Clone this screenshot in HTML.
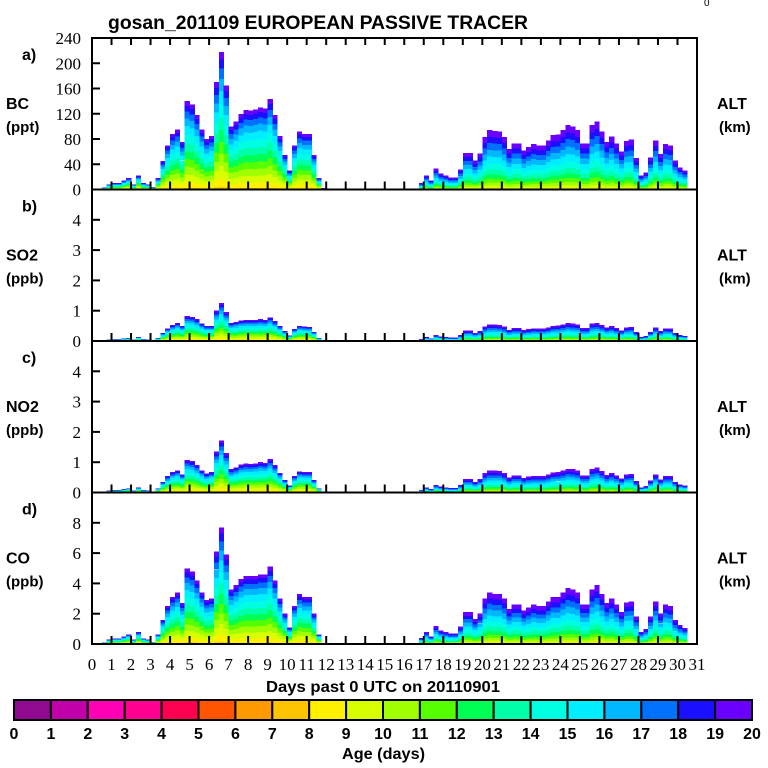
<!DOCTYPE html>
<html><head><meta charset="utf-8">
<style>
html,body{margin:0;padding:0;background:#fff;}
svg{display:block;font-family:"Liberation Sans",sans-serif;}
.lab{font-family:"Liberation Sans",sans-serif;font-weight:bold;font-size:15px;}
.tk{font-family:"Liberation Serif",serif;font-size:17px;}
</style></head>
<body>
<svg id="chart" width="768" height="768" viewBox="0 0 768 768" xmlns="http://www.w3.org/2000/svg">
<text x="108" y="29" font-size="19" font-weight="bold" textLength="420" lengthAdjust="spacingAndGlyphs" font-family="Liberation Sans">gosan_201109 EUROPEAN PASSIVE TRACER</text>
<text x="704" y="6" font-size="10">0</text>
<g id="panels"></g>
<g id="xticks"></g>
<text x="266" y="692" font-size="16" font-weight="bold" textLength="234" lengthAdjust="spacingAndGlyphs">Days past 0 UTC on 20110901</text>
<g id="colorbar"></g>
<text x="342" y="759" font-size="16" font-weight="bold" textLength="83" lengthAdjust="spacingAndGlyphs">Age (days)</text>
</svg>
<script>
const NS='http://www.w3.org/2000/svg';
const days=[0,1,2,3,4,5,6,7,8,9,10,11,12,13,14,15,16,17,18,19,20,21,22,23,24,25,26,27,28,29,30,31];
const ageColors=['#8f0a8f','#c000a8','#ff00b4','#ff0090','#ff0050','#ff5500','#ff9900','#ffc400','#fff000','#d8ff00','#a0ff00','#55ff00','#00ff55','#00ffa8','#00ffe0','#00eeff','#00b8ff','#0070ff','#1a10ff','#6a00ff'];
const ageLabels=['0','1','2','3','4','5','6','7','8','9','10','11','12','13','14','15','16','17','18','19','20'];
const profileEarly=[0,0,0,0,0,0.001,0.003,0.012,0.06,0.08,0.08,0.08,0.08,0.08,0.09,0.09,0.08,0.07,0.06,0.05];
const profileLate=[0,0,0,0,0,0,0.001,0.004,0.02,0.04,0.05,0.06,0.07,0.08,0.1,0.11,0.11,0.11,0.1,0.11];
const bcValues=[0,0,3,8, 10,10,14,18, 8,22,10,8, 4,18,45,70, 88,95,75,140, 135,118,95,80, 85,170,218,165, 100,108,120,126, 125,127,130,128, 143,118,85,55, 30,70,92,88, 88,55,18,2,
0,0,0,0, 0,0,0,0, 0,0,0,0, 0,0,0,0, 0,0,0,10, 22,14,33,25, 22,19,19,32, 58,58,46,57, 83,94,93,92, 83,64,73,73, 62,67,72,70, 70,78,86,87, 94,102,100,94, 73,73,102,108, 92,75,84,73, 60,77,79,50, 22,27,51,78, 56,72,70,46, 35,30,0,0];
const so2Values=[0,0,.02,.05, .06,.06,.08,.1, .05,.13,.06,.05, .02,.1,.26,.41, .52,.6,.5,.82, .8,.72,.58,.5, .5,1.0,1.25,.95, .6,.63,.68,.7, .7,.7,.72,.7, .78,.66,.5,.33, .18,.4,.5,.48, .47,.3,.1,.01,
0,0,0,0, 0,0,0,0, 0,0,0,0, 0,0,0,0, 0,0,0,.06, .13,.08,.19,.15, .13,.11,.11,.19, .34,.34,.27,.33, .48,.55,.54,.53, .48,.37,.43,.43, .36,.39,.42,.41, .41,.45,.5,.51, .55,.6,.58,.55, .43,.43,.58,.6, .53,.44,.49,.43, .35,.45,.46,.29, .13,.16,.3,.45, .33,.42,.41,.27, .2,.17,0,0];
const no2Values=[0,0,.02,.06, .08,.08,.11,.14, .06,.17,.08,.06, .03,.14,.35,.54, .68,.73,.6,1.08, 1.04,.91,.73,.62, .68,1.35,1.72,1.3, .77,.83,.92,.95, .94,.96,1.0,.98, 1.1,.9,.65,.42, .23,.54,.7,.68, .67,.42,.14,.02,
0,0,0,0, 0,0,0,0, 0,0,0,0, 0,0,0,0, 0,0,0,.08, .17,.11,.25,.19, .17,.15,.15,.25, .45,.45,.35,.44, .64,.72,.72,.71, .64,.49,.56,.56, .48,.52,.55,.54, .54,.6,.66,.67, .72,.78,.77,.72, .56,.56,.78,.83, .71,.58,.65,.56, .46,.59,.61,.38, .17,.21,.39,.6, .43,.55,.54,.35, .27,.23,0,0];
const coValues=[0,0,.1,.3, .36,.36,.5,.64, .29,.8,.36,.29, .14,.64,1.6,2.5, 3.1,3.4,2.7,5.0, 4.8,4.2,3.4,2.9, 3.0,6.1,7.7,5.9, 3.6,3.9,4.3,4.5, 4.5,4.5,4.6,4.6, 5.1,4.2,3.0,2.0, 1.1,2.5,3.3,3.1, 3.1,2.0,.64,.07,
0,0,0,0, 0,0,0,0, 0,0,0,0, 0,0,0,0, 0,0,0,.4, .8,.5,1.2,.9, .8,.7,.7,1.15, 2.1,2.1,1.65,2.0, 3.0,3.4,3.3,3.3, 3.0,2.3,2.6,2.6, 2.2,2.4,2.6,2.5, 2.5,2.8,3.1,3.1, 3.4,3.7,3.6,3.4, 2.6,2.6,3.6,3.9, 3.3,2.7,3.0,2.6, 2.1,2.75,2.8,1.8, .8,1.0,1.8,2.8, 2.0,2.6,2.5,1.6, 1.25,1.07,0,0];
const bcTicks=[0,40,80,120,160,200,240];
const gasTicks=[0,1,2,3,4];
const coTicks=[0,2,4,6,8];
const stepDays=0.25;

const X0=92,X1=697,DMAX=31;
const xs=d=>X0+(X1-X0)*d/DMAX;
function mk(tag,attrs,parent){const e=document.createElementNS(NS,tag);for(const k in attrs)e.setAttribute(k,attrs[k]);parent.appendChild(e);return e;}
function sumArr(a){return a.reduce((s,v)=>s+v,0);}

const panels=[
 {key:'a',name:'bc',letter:'a)',sp:'BC',unit:'(ppt)',vals:bcValues,ticks:bcTicks,ymax:240,top:38,bot:189.5},
 {key:'b',name:'so2',letter:'b)',sp:'SO2',unit:'(ppb)',vals:so2Values,ticks:gasTicks,ymax:5,top:189.5,bot:341},
 {key:'c',name:'no2',letter:'c)',sp:'NO2',unit:'(ppb)',vals:no2Values,ticks:gasTicks,ymax:5,top:341,bot:492.5},
 {key:'d',name:'co',letter:'d)',sp:'CO',unit:'(ppb)',vals:coValues,ticks:coTicks,ymax:10,top:492.5,bot:644}
];
const root=document.getElementById('panels');
panels.forEach((p,pi)=>{
  const g=mk('g',{},root);
  
  
  const ys=v=>p.bot-(p.bot-p.top)*v/p.ymax;
  const marks=mk('g',{'shape-rendering':'crispEdges'},g);
  
  
  const sE=sumArr(profileEarly),sL=sumArr(profileLate);
  p.vals.forEach((v,i)=>{
    if(v<=0)return;
    const d0=i*stepDays,d1=(i+1)*stepDays;
    const prof=d0<14?profileEarly:profileLate;const tot=d0<14?sE:sL;
    let cum=0;
    const xa=xs(d0),xb=xs(d1);
    prof.forEach((f,k)=>{
      if(f<=0)return;
      const lo=cum;cum+=v*f/tot;
      const ya=ys(cum),yb=ys(lo);
      const r=mk('rect',{x:xa.toFixed(2),y:ya.toFixed(2),width:(xb-xa+0.3).toFixed(2),height:Math.max(0,yb-ya).toFixed(2),fill:ageColors[k]},marks);
      
      
    });
  });
  const frame=mk('rect',{x:X0,y:p.top,width:X1-X0,height:p.bot-p.top,fill:'none',stroke:'#000','stroke-width':2},g);
  
  
  days.forEach(d=>{
    const t=mk('line',{x1:xs(d),x2:xs(d),y1:p.bot,y2:p.bot-8,stroke:'#000','stroke-width':2},g);
    
    
    if(pi===0){
      const t2=mk('line',{x1:xs(d),x2:xs(d),y1:p.top,y2:p.top+7,stroke:'#000','stroke-width':2},g);
      
      
    }
  });
  p.ticks.forEach(tv=>{
    const y=ys(tv);
    const l=mk('line',{x1:X0,x2:X0+8,y1:y,y2:y,stroke:'#000','stroke-width':2},g);
    
    
    const tx=mk('text',{x:81,y:y+6,'text-anchor':'end',class:'tk'},g);
    tx.textContent=String(tv);
    
    
  });
  const ph=p.bot-p.top;
  const lt=mk('text',{x:22,y:p.top+22,class:'lab',style:'font-size:16px'},g);lt.textContent=p.letter;
  
  
  const sp=mk('text',{x:6,y:p.top+ph*0.47,class:'lab',style:'font-size:16px'},g);sp.textContent=p.sp;
  
  
  const un=mk('text',{x:6,y:p.top+ph*0.62,class:'lab'},g);un.textContent=p.unit;
  
  
  const al=mk('text',{x:717,y:p.top+ph*0.47,class:'lab',style:'font-size:16px'},g);al.textContent='ALT';
  
  
  const km=mk('text',{x:719,y:p.top+ph*0.62,class:'lab'},g);km.textContent='(km)';
  
  
});
const xt=document.getElementById('xticks');
days.forEach(d=>{
  const t=mk('text',{x:xs(d),y:670,'text-anchor':'middle',class:'tk'},xt);
  t.textContent=String(d);
  
  
});
const cb=document.getElementById('colorbar');
const C0=14,C1=752,bw=(C1-C0)/ageColors.length;
ageColors.forEach((c,k)=>{
  const r=mk('rect',{x:C0+k*bw,y:700,width:bw,height:20,fill:c,stroke:'#000','stroke-width':2},cb);
  
  
});
ageLabels.forEach((s,k)=>{
  const t=mk('text',{x:C0+k*bw,y:739,'text-anchor':'middle',class:'lab',style:'font-size:16px'},cb);
  t.textContent=s;
  
  
});
</script>
</body></html>
